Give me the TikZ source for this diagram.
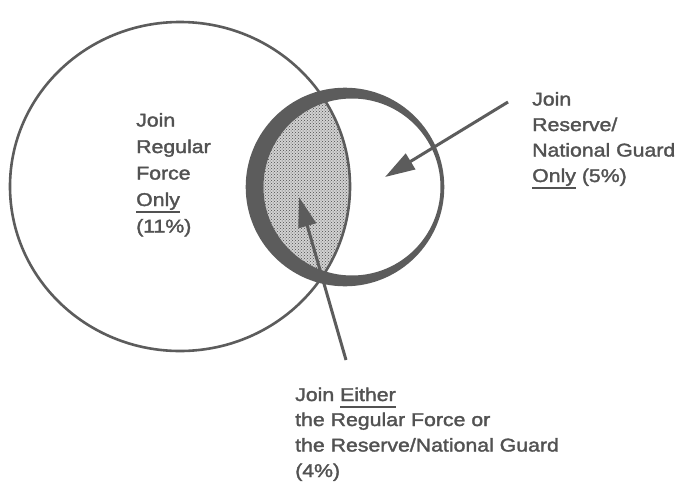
\documentclass[tikz,border=0pt]{standalone}
\usepackage{fontspec}
\setmainfont{Liberation Sans}[FakeStretch=1.15,FakeBold=1.8]
\usetikzlibrary{arrows.meta,patterns}
\definecolor{ink}{gray}{0.36}
\definecolor{txt}{gray}{0.32}
\newcommand\undl[1]{\vtop{\hbox{\raisebox{0pt}[\height][0pt]{#1}}\kern5pt\hrule height1.8pt}}
\tikzset{
  lbl/.style={anchor=base west, inner sep=0pt, text=txt, font=\fontsize{18.5}{22}\selectfont},
  pointer/.style={draw=ink, line width=3pt, -{Triangle[length=30pt,width=18pt]}},
  outline/.style={draw=ink, line width=2.6pt}
}
\begin{document}
\begin{tikzpicture}[x=1pt,y=-1pt]
\useasboundingbox (0,0) rectangle (677,482);
\fill[white] (0,0) rectangle (677,482);
% shaded overlap
\begin{scope}
  \clip (180,186.5) ellipse [x radius=170, y radius=164.5];
  \fill[gray!35] (352,187) circle [radius=88.5];
  \fill[pattern=crosshatch dots, pattern color=black!70] (352,187) circle [radius=88.5];
\end{scope}
% big circle
\draw[outline] (180,186.5) ellipse [x radius=170, y radius=164.5];
% small circle with thick crescent
\fill[ink, even odd rule] (345,187) circle [radius=99.3] (352,187) circle [radius=88.5];
% arrows
\coordinate (a1s) at (508,102);
\coordinate (a1t) at (385,177);
\coordinate (a2s) at (346,360);
\coordinate (a2t) at (299,197);
\draw[pointer] (a1s) -- (a1t);
\draw[pointer] (a2s) -- (a2t);
% left label
\node[lbl] (l1) at (136,126.5) {Join};
\node[lbl] (l2) at (136,153) {Regular};
\node[lbl] (l3) at (136,179.5) {Force};
\node[lbl] (l4) at (136,206) {\undl{Only}};
\node[lbl] (l5) at (136,232.5) {(11\%)};
% right label
\node[lbl] (r1) at (532,105.5) {Join};
\node[lbl] (r2) at (532,131) {Reserve/};
\node[lbl] (r3) at (532,156.5) {National Guard};
\node[lbl] (r4) at (532,182) {\undl{Only} (5\%)};
% bottom label
\node[lbl] (b1) at (295,401) {Join \undl{Either}};
\node[lbl] (b2) at (295,426) {the Regular Force or};
\node[lbl] (b3) at (295,451.5) {the Reserve/National Guard};
\node[lbl] (b4) at (295,477) {(4\%)};
\end{tikzpicture}
\end{document}
